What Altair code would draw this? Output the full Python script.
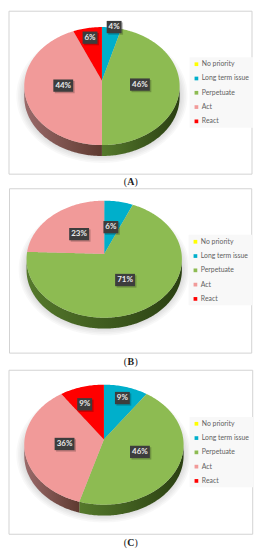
import math
import altair as alt
import pandas as pd

CATEGORIES = ["No priority", "Long term issue", "Perpetuate", "Act", "React"]
COLORS = ["#ffff00", "#00afcb", "#8dbb52", "#f19a99", "#ff0000"]

VALUES_A = [0, 4, 46, 44, 6]
VALUES_B = [0, 6, 71, 23, 0]
VALUES_C = [0, 9, 46, 36, 9]

LABEL_X_A = [None, 114, 140, 62.7, 89.7]
LABEL_Y_A = [None, 24, 82, 83, 34.7]
LABEL_X_B = [None, 110.7, 125, 78.7, None]
LABEL_Y_B = [None, 224.7, 278, 231.7, None]
LABEL_X_C = [None, 122.3, 140, 64, 84.3]
LABEL_Y_C = [None, 396, 450.3, 442.3, 402.3]

RIM_GRADIENTS = {
    "Perpetuate": ("#55792c", "#2a3f12"),
    "Act": ("#9a6a6a", "#5e3a30"),
}


def wedge_rows(cat, a0, a1, g):
    pts = [(g["ax"], g["ay"])]
    n = max(2, int(a1 - a0))
    for i in range(n + 1):
        a = math.radians(a0 + (a1 - a0) * i / n)
        pts.append((g["cx"] + g["rx"] * math.sin(a), g["cy"] - g["ry"] * math.cos(a)))
    xs = sorted({p[0] for p in pts})
    rows = []
    eps = 1e-4
    samples = []
    for x in xs:
        samples += [x - eps, x + eps]
    m = len(pts)
    for x in samples:
        ys = []
        for i in range(m):
            (x0, y0), (x1, y1) = pts[i], pts[(i + 1) % m]
            if (x0 - x) * (x1 - x) < 0:
                ys.append(y0 + (x - x0) / (x1 - x0) * (y1 - y0))
        if ys:
            rows.append({"x": x, "y": min(ys), "y2": max(ys), "cat": cat})
    return rows


def ellipse_rows(cx, cy, rx, ry):
    rows = []
    for i in range(181):
        a = math.radians(i)
        rows.append({"x": cx - rx * math.cos(a),
                     "y": cy - ry * math.sin(a),
                     "y2": cy + ry * math.sin(a)})
    return rows


def rim_rows(a0, a1, g):
    lo, hi = max(a0, 90), min(a1, 270)
    if hi <= lo:
        return []
    rows = []
    n = int(hi - lo) + 1
    for i in range(n + 1):
        a = math.radians(lo + (hi - lo) * i / n)
        x = g["cx"] + g["rx"] * math.sin(a)
        y = g["cy"] - g["ry"] * math.cos(a)
        rows.append({"x": x, "y": y, "y2": y + g["depth"]})
    # include the flank above the widest point
    return rows


def panel(values, lab_x, lab_y, g, letter):
    X = alt.X("x:Q", axis=None, scale=alt.Scale(domain=[8, 254], nice=False, zero=False))
    Y = alt.Y("y:Q", axis=None, scale=alt.Scale(domain=[g["bottom"], g["top"]], nice=False, zero=False))
    X2, Y2 = alt.X2("x2:Q"), alt.Y2("y2:Q")
    layers = []

    # frame
    frame = pd.DataFrame([{"x": g["fx0"], "x2": g["fx1"], "y": g["fy0"], "y2": g["fy1"]}])
    layers.append(alt.Chart(frame).mark_rect(fill="#ffffff", stroke="#d2d2d2", strokeWidth=1)
                  .encode(x=X, x2=X2, y=Y, y2=Y2))

    # soft shadow
    for k in range(7):
        d = pd.DataFrame(ellipse_rows(g["cx"], g["cy"] + 10, g["rx"] + 8 - k * 1.6, g["ry"] + 8 - k * 1.6))
        layers.append(alt.Chart(d).mark_area(orient="vertical", color="#000000", opacity=0.028)
                      .encode(x=X, y=Y, y2=Y2))

    # wedges and rim
    total = sum(values)
    start = 0
    wedges = []
    for cat, v in zip(CATEGORIES, values):
        if v <= 0:
            continue
        end = start + 360 * v / total
        wedges.append((cat, start, end))
        start = end
    for cat, a0, a1 in wedges:
        rr = rim_rows(a0, a1, g)
        if rr:
            c0, c1 = RIM_GRADIENTS.get(cat, ("#555555", "#333333"))
            grad = alt.Gradient(gradient="linear", x1=0, x2=1, y1=0, y2=0,
                                stops=[alt.GradientStop(color=c0, offset=0),
                                       alt.GradientStop(color=c1, offset=1)])
            layers.append(alt.Chart(pd.DataFrame(rr)).mark_area(orient="vertical", color=grad)
                          .encode(x=X, y=Y, y2=Y2))
    rows = []
    for cat, a0, a1 in wedges:
        rows += wedge_rows(cat, a0, a1, g)
    legend = alt.Legend(orient="none", legendX=g["lx"], legendY=g["ly"], title=None,
                        fillColor="#f8f8f8", labelFont="Lato", labelFontSize=6.9,
                        labelColor="#5f5f5f", symbolType="square", symbolSize=14,
                        symbolStrokeWidth=0, rowPadding=6.4, padding=3.5,
                        labelOffset=2, labelLimit=60)
    layers.append(alt.Chart(pd.DataFrame(rows)).mark_area(orient="vertical").encode(
        x=X, y=Y, y2=Y2,
        color=alt.Color("cat:N", scale=alt.Scale(domain=CATEGORIES, range=COLORS), legend=legend)))

    # value labels
    labs = []
    for v, lx, ly in zip(values, lab_x, lab_y):
        if lx is None:
            continue
        hw = 7.5 if v < 10 else 10
        labs.append({"x": lx - hw, "x2": lx + hw, "y": ly - 6.2, "y2": ly + 6.2,
                     "cx": lx, "cy": ly, "t": f"{v}%"})
    labs = pd.DataFrame(labs)
    shadow = labs.assign(x=labs.x + 1.5, x2=labs.x2 + 1.5, y=labs.y + 1.5, y2=labs.y2 + 1.5)
    layers.append(alt.Chart(shadow).mark_rect(color="#000000", opacity=0.22).encode(x=X, x2=X2, y=Y, y2=Y2))
    layers.append(alt.Chart(labs).mark_rect(color="#3d3d3d").encode(x=X, x2=X2, y=Y, y2=Y2))
    layers.append(alt.Chart(labs).mark_text(font="Lato", fontWeight="bold", fontSize=8, color="#ebebeb",
                                            baseline="middle").encode(
        x=alt.X("cx:Q", axis=None, scale=alt.Scale(domain=[8, 254], nice=False, zero=False)),
        y=alt.Y("cy:Q", axis=None, scale=alt.Scale(domain=[g["bottom"], g["top"]], nice=False, zero=False)),
        text="t:N"))

    # caption
    lx, ly = g["capx"], g["capy"]
    for txt, dx, align, weight in [("(", -3.7, "right", "normal"), (letter, 0, "center", "bold"), (")", 3.7, "left", "normal")]:
        d = pd.DataFrame([{"x": lx + dx, "y": ly, "t": txt}])
        layers.append(alt.Chart(d).mark_text(font="Liberation Serif", fontSize=10, fontWeight=weight,
                                             color="#222222", align=align, baseline="middle")
                      .encode(x=X, y=Y, text="t:N"))
    return alt.layer(*layers).properties(width=246, height=g["bottom"] - g["top"]).resolve_scale(color="shared")


GEOM_A = dict(top=8, bottom=186, fx0=8, fx1=253, fy0=8, fy1=172.3,
              cx=101.7, cy=83.5, rx=78.3, ry=59.5, ax=101.7, ay=78, depth=11,
              lx=182, ly=46.5, capx=130.8, capy=180)
GEOM_B = dict(top=186, bottom=368, fx0=8.5, fx1=252.7, fy0=186, fy1=351.7,
              cx=104, cy=257, rx=78.3, ry=59, ax=104, ay=251.7, depth=11,
              lx=181, ly=46.5, capx=130.8, capy=360.7)
GEOM_C = dict(top=368, bottom=550, fx0=8, fx1=253.7, fy0=368, fy1=533.3,
              cx=103.7, cy=443, rx=80.3, ry=60.5, ax=103.7, ay=437.7, depth=11,
              lx=182, ly=47, capx=130.8, capy=541.7)

chart = alt.vconcat(
    panel(VALUES_A, LABEL_X_A, LABEL_Y_A, GEOM_A, "A"),
    panel(VALUES_B, LABEL_X_B, LABEL_Y_B, GEOM_B, "B"),
    panel(VALUES_C, LABEL_X_C, LABEL_Y_C, GEOM_C, "C"),
    spacing=0,
).resolve_legend(color="independent").properties(padding=0, background="#ffffff").configure_view(stroke=None)

chart.save("out.html", embed_options={"renderer": "svg", "actions": False})
